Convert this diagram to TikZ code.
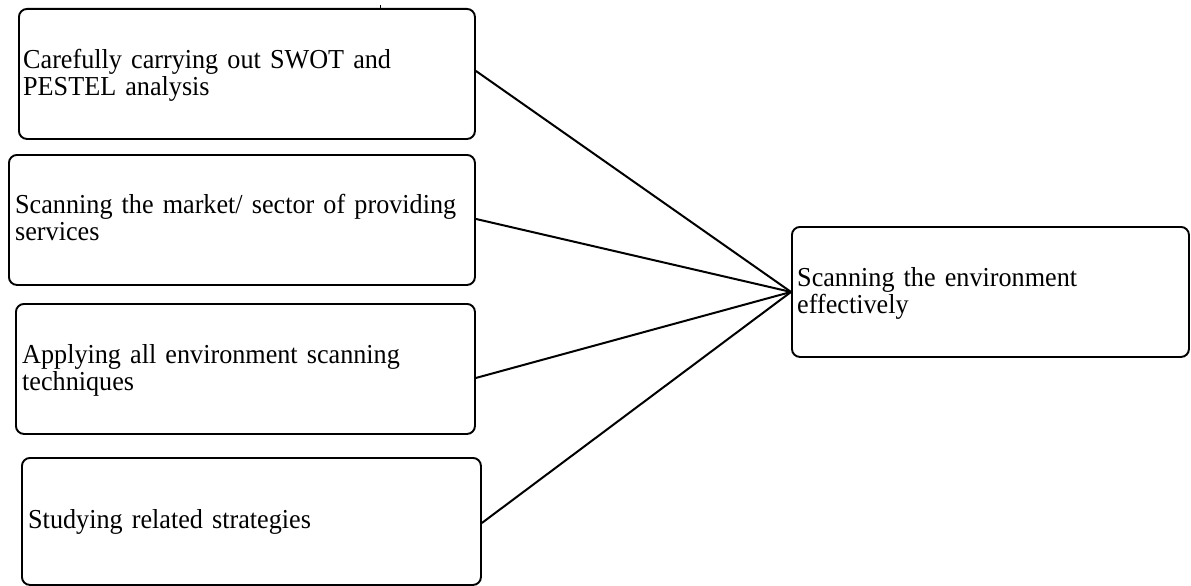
\documentclass[tikz,border=0pt]{standalone}
\usepackage{fontspec}
\setmainfont{Liberation Serif}[FakeStretch=0.955,WordSpace=0.85]
\begin{document}
\begin{tikzpicture}[x=1pt,y=-1pt,
  box/.style={draw, line width=1.9pt, rounded corners=8pt, inner sep=0pt, anchor=north west},
  lbl/.style={anchor=base west, inner sep=0pt, text width=460pt, align=left,
    font=\fontsize{27.4}{27}\selectfont},
  link/.style={line width=2pt}]
\useasboundingbox (0,0) rectangle (1191,586);

% boxes
\node[box, minimum width=456pt, minimum height=130pt] (b1) at (18,8) {};
\node[box, minimum width=466pt, minimum height=130pt] (b2) at (8,154) {};
\node[box, minimum width=459pt, minimum height=130pt] (b3) at (15,303) {};
\node[box, minimum width=459pt, minimum height=127pt] (b4) at (21,457) {};
\node[box, minimum width=397pt, minimum height=130pt] (r) at (791,226) {};

% labels
\node[lbl] (t1) at (23,69) {Carefully carrying out SWOT and\\PESTEL analysis};
\node[lbl] (t2) at (15,213) {Scanning the market/ sector of providing\\services};
\node[lbl] (t3) at (22,363) {Applying all environment scanning\\techniques};
\node[lbl] (t4) at (28,528) {Studying related strategies};
\node[lbl, text width=380pt] (tr) at (797,286) {Scanning the environment\\effectively};

% connectors
\draw[link] ([yshift=3pt]b1.east) -- (r.west);
\draw[link] ([yshift=1pt]b2.east) -- (r.west);
\draw[link] ([yshift=-9pt]b3.east) -- (r.west);
\draw[link] ([yshift=-1.5pt]b4.east) -- (r.west);

% small tick above the first box
\coordinate (tk) at (380,5);
\draw[line width=0.8pt] (tk) -- ++(0,3);
\end{tikzpicture}
\end{document}
